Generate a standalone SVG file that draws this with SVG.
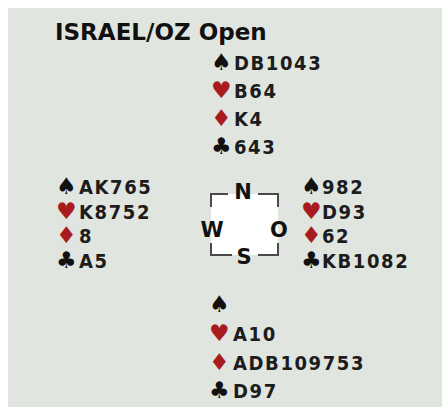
<svg xmlns="http://www.w3.org/2000/svg" width="442" height="407" viewBox="0 0 442 407">
<style>
.card{font-family:"DejaVu Sans Condensed","DejaVu Sans",sans-serif;font-weight:bold;font-size:20px;letter-spacing:1.6px;fill:#1c1c1c}
.suit{font-family:"DejaVu Sans",sans-serif;font-size:23px}
.blk{fill:#111}
.red{fill:#a81c1f}
.dir{font-family:"DejaVu Sans",sans-serif;font-weight:bold;font-size:21px;fill:#111;text-anchor:middle}
.br{fill:none;stroke:#4a4a4a;stroke-width:2}
</style>
<rect x="0" y="0" width="442" height="407" fill="#ffffff"/>
<rect x="8" y="8" width="434" height="399" fill="#e0e5e0"/>
<text x="55" y="40" font-family="DejaVu Sans, sans-serif" font-weight="bold" font-size="23" fill="#111">ISRAEL/OZ Open</text>
<g id="north">
<text x="211" y="70" class="suit blk">♠</text><text x="234" y="70" class="card">DB1043</text>
<text x="211" y="98" class="suit red">♥</text><text x="234" y="98" class="card">B64</text>
<text x="211" y="126" class="suit red">♦</text><text x="234" y="126" class="card">K4</text>
<text x="211" y="154" class="suit blk">♣</text><text x="234" y="154" class="card">643</text>
</g>
<g id="west">
<text x="56" y="194" class="suit blk">♠</text><text x="79" y="194" class="card">AK765</text>
<text x="56" y="219" class="suit red">♥</text><text x="79" y="219" class="card">K8752</text>
<text x="56" y="243" class="suit red">♦</text><text x="79" y="243" class="card">8</text>
<text x="56" y="268" class="suit blk">♣</text><text x="79" y="268" class="card">A5</text>
</g>
<g id="east">
<text x="301" y="194" class="suit blk">♠</text><text x="322" y="194" class="card">982</text>
<text x="301" y="219" class="suit red">♥</text><text x="322" y="219" class="card">D93</text>
<text x="301" y="243" class="suit red">♦</text><text x="322" y="243" class="card">62</text>
<text x="301" y="268" class="suit blk">♣</text><text x="322" y="268" class="card">KB1082</text>
</g>
<g id="south">
<text x="209" y="312" class="suit blk">♠</text>
<text x="209" y="341" class="suit red">♥</text><text x="233" y="341" class="card">A10</text>
<text x="209" y="370" class="suit red">♦</text><text x="233" y="370" class="card">ADB109753</text>
<text x="209" y="398" class="suit blk">♣</text><text x="233" y="398" class="card">D97</text>
</g>
<g id="compass">
<rect x="211" y="194" width="67" height="61" fill="#ffffff"/>
<path class="br" d="M211,207 V194 H228 M258,194 H278 V207 M211,243 V255 H232 M258,255 H278 V243"/>
<text x="243" y="199" class="dir">N</text>
<text x="212" y="237" class="dir">W</text>
<text x="279" y="237" class="dir">O</text>
<text x="244" y="264" class="dir">S</text>
</g>
</svg>
